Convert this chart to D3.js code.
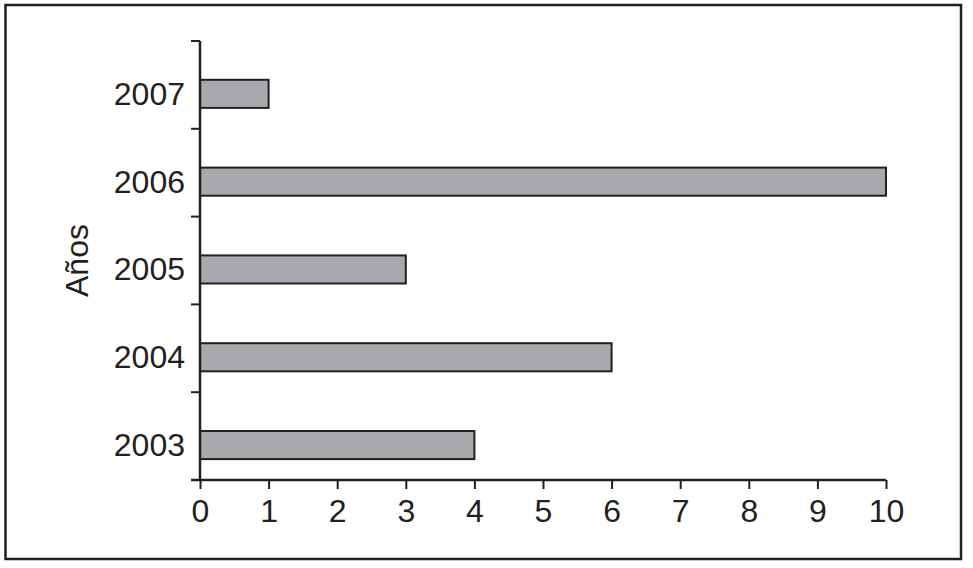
<!DOCTYPE html>
<html>
<head>
<meta charset="utf-8">
<script src="https://cdn.jsdelivr.net/npm/d3@7"></script>
<style>
  body { margin: 0; background: #fff; }
  svg { display: block; }
  text { font-family: "Liberation Sans", Arial, Helvetica, sans-serif; fill: #231f20; }
</style>
</head>
<body>
<svg id="chart" width="973" height="568"></svg>
<script>
// values
var years = ['2007', '2006', '2005', '2004', '2003'];
var counts = [1, 10, 3, 6, 4];
var xTicks = [0, 1, 2, 3, 4, 5, 6, 7, 8, 9, 10];
var yTitle = 'Años';

var svg = d3.select('#chart');
var ink = '#231f20';

// outer frame
svg.append('rect')
    .attr('x', 5.5).attr('y', 5)
    .attr('width', 955.5).attr('height', 554)
    .attr('fill', 'none')
    .attr('stroke', ink)
    .attr('stroke-width', 2.5);

var plot = {left: 200, right: 886, top: 41, bottom: 480};

var x = d3.scaleLinear().domain([0, 10]).range([plot.left, plot.right]);

// bars sit a bit below the middle of each band
var y = d3.scaleBand().domain(years).range([plot.top, plot.bottom])
    .paddingInner(0.68).paddingOuter(0.34).align(0.65);

// band edges for the y tick marks
var yEdge = d3.scaleBand().domain(years).range([plot.top, plot.bottom]).padding(0);

var data = years.map(function(d, i) { return {year: d, value: counts[i]}; });

svg.append('g')
    .attr('class', 'bars')
    .selectAll('rect')
    .data(data)
    .enter().append('rect')
      .attr('x', x(0))
      .attr('y', function(d) { return y(d.year); })
      .attr('width', function(d) { return x(d.value) - x(0); })
      .attr('height', y.bandwidth())
      .attr('fill', '#a7a9ac')
      .attr('stroke', ink)
      .attr('stroke-width', 2);

// x axis
var xAxis = svg.append('g')
    .attr('transform', 'translate(0,' + plot.bottom + ')')
    .call(d3.axisBottom(x).tickValues(xTicks).tickSize(9).tickPadding(10).tickSizeOuter(0));
xAxis.select('.domain').attr('stroke', ink).attr('stroke-width', 2.5)
    .attr('d', 'M' + (plot.left - 9) + ',0H' + plot.right);
xAxis.selectAll('.tick line').attr('stroke', ink).attr('stroke-width', 2);
xAxis.selectAll('.tick text')
    .style('font-size', '32px')
    .attr('fill', ink);

// y axis: line + tick marks at band edges
var yEdges = years.map(function(d) { return yEdge(d); });
svg.append('line')
    .attr('x1', plot.left).attr('x2', plot.left)
    .attr('y1', plot.top).attr('y2', plot.bottom)
    .attr('stroke', ink).attr('stroke-width', 2.5);
svg.append('g')
    .selectAll('line')
    .data(yEdges)
    .enter().append('line')
      .attr('x1', plot.left - 9).attr('x2', plot.left)
      .attr('y1', function(d) { return d; })
      .attr('y2', function(d) { return d; })
      .attr('stroke', ink).attr('stroke-width', 2);

// year labels centred on bars
var yAxis = svg.append('g')
    .attr('transform', 'translate(' + plot.left + ',0)')
    .call(d3.axisLeft(y).tickSize(0).tickPadding(15));
yAxis.select('.domain').remove();
yAxis.selectAll('.tick text')
    .style('font-size', '32px')
    .attr('fill', ink)
    .attr('dy', '0.34em');

// axis title
svg.append('text')
    .attr('transform', 'translate(88,' + ((plot.top + plot.bottom) / 2) + ') rotate(-90)')
    .attr('text-anchor', 'middle')
    .style('font-size', '32px')
    .text(yTitle);
</script>
</body>
</html>
